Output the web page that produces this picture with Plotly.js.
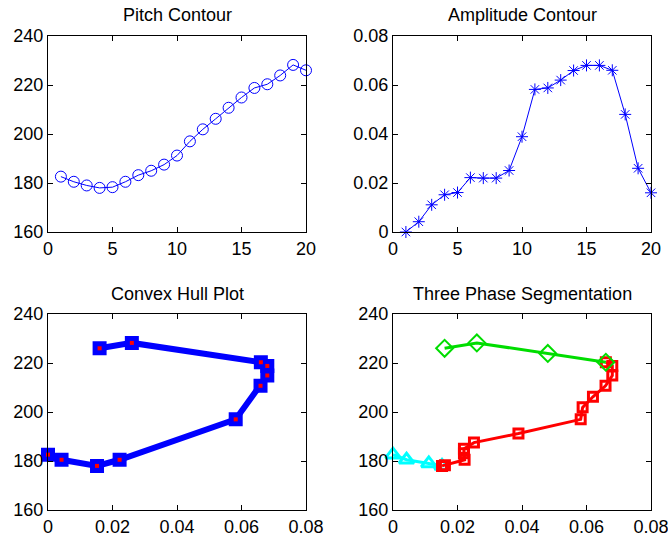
<!DOCTYPE html>
<html><head><meta charset="utf-8">
<script src="https://cdn.plot.ly/plotly-3.0.1.min.js"></script>
<style>html,body{margin:0;padding:0;background:#fff}#chart{width:668px;height:540px}</style>
</head><body><div id="chart"></div>
<script>
// Frame index 1..20
var frames = [1,2,3,4,5,6,7,8,9,10,11,12,13,14,15,16,17,18,19,20];
// Pitch contour (Hz)
var pitch = [182.6,180.5,179.0,178.0,178.3,180.5,183.2,185.0,187.5,191.2,197.0,201.9,206.2,210.7,214.9,218.8,220.3,223.9,228.2,226.0];
// Amplitude contour
var amp = [0.000,0.0042,0.0111,0.0152,0.0161,0.0222,0.022,0.022,0.0251,0.0389,0.0582,0.0588,0.062,0.0659,0.068,0.068,0.066,0.048,0.026,0.016];
// Convex hull vertices (frame numbers, in drawing order)
var hullFrames = [1,2,4,6,11,14,15,16,17,19,20];
// Three phase segments (frame numbers)
var phase1Frames = [1,2,3,4];
var phase2Frames = [4,5,6,7,8,9,10,11,12,13,14,15,16,17];
var phase3Frames = [17,18,19,20];
var titles = ["Pitch Contour","Amplitude Contour","Convex Hull Plot","Three Phase Segmentation"];

function pick(arr, fr){ return fr.map(function(f){ return arr[f-1]; }); }

var traces = [
  {x: frames, y: pitch, xaxis:'x', yaxis:'y', mode:'lines+markers', cliponaxis:false,
   line:{color:'#0000ff', width:1}, marker:{symbol:'circle-open', size:11, color:'#0000ff', line:{width:1}}},
  {x: frames, y: amp, xaxis:'x2', yaxis:'y2', mode:'lines+markers', cliponaxis:false,
   line:{color:'#0000ff', width:1}, marker:{symbol:'asterisk-open', size:10, color:'#0000ff', line:{width:1, color:'#0000ff'}}},
  {x: pick(amp,hullFrames), y: pick(pitch,hullFrames), xaxis:'x3', yaxis:'y3', mode:'lines+markers', cliponaxis:false,
   line:{color:'#0000ff', width:6}, marker:{symbol:'square', size:12, color:'#0000ff', line:{width:2, color:'#0000ff'}}},
  {x: pick(amp,hullFrames), y: pick(pitch,hullFrames), xaxis:'x3', yaxis:'y3', mode:'markers', cliponaxis:false,
   marker:{symbol:'square', size:4, color:'#ff0000'}},
  {x: pick(amp,phase1Frames), y: pick(pitch,phase1Frames), xaxis:'x4', yaxis:'y4', mode:'lines+markers', cliponaxis:false,
   line:{color:'#00ffff', width:3}, marker:{symbol:'triangle-up-open', size:13, color:'#00ffff', line:{width:3}}},
  {x: pick(amp,phase2Frames), y: pick(pitch,phase2Frames), xaxis:'x4', yaxis:'y4', mode:'lines+markers', cliponaxis:false,
   line:{color:'#ff0000', width:3}, marker:{symbol:'square-open', size:9, color:'#ff0000', line:{width:3}}},
  {x: pick(amp,phase3Frames), y: pick(pitch,phase3Frames), xaxis:'x4', yaxis:'y4', mode:'lines+markers', cliponaxis:false,
   line:{color:'#00dd00', width:3}, marker:{symbol:'diamond-open', size:13, color:'#00dd00', line:{width:2}}}
];

var W=668, H=540;
function dx(a,b){return [a/W, b/W];}
function dy(top,bot){return [1-bot/H, 1-top/H];}
var font = {family:'"Liberation Sans", Arial, sans-serif', size:18, color:'#000'};
function ax(dom, range, dtick, anchor){
  return {domain:dom, range:range, dtick:dtick, tick0:0, anchor:anchor, showgrid:false, zeroline:false,
    showline:true, linecolor:'#000', linewidth:1, mirror:'ticks', ticks:'inside', ticklen:5, tickcolor:'#000',
    tickfont:font, fixedrange:true, ticklabeloverflow:'allow'};
}
var L=48, R=306, L2=393, R2=651, T1=36, B1=232, T2=314, B2=510;
var layout = {
  width:W, height:H, margin:{l:0,r:0,t:0,b:0}, showlegend:false,
  paper_bgcolor:'#fff', plot_bgcolor:'#fff', font:font,
  xaxis: ax(dx(L,R), [0,20], 5, 'y'),
  yaxis: ax(dy(T1,B1), [160,240], 20, 'x'),
  xaxis2: ax(dx(L2,R2), [0,20], 5, 'y2'),
  yaxis2: ax(dy(T1,B1), [0,0.08], 0.02, 'x2'),
  xaxis3: ax(dx(L,R), [0,0.08], 0.02, 'y3'),
  yaxis3: ax(dy(T2,B2), [160,240], 20, 'x3'),
  xaxis4: ax(dx(L2,R2), [0,0.08], 0.02, 'y4'),
  yaxis4: ax(dy(T2,B2), [160,240], 20, 'x4'),
  annotations: [
    {text:titles[0], x:(L+R)/2/W, y:1-15/H},
    {text:titles[1], x:(L2+R2)/2/W, y:1-15/H},
    {text:titles[2], x:(L+R)/2/W, y:1-294/H},
    {text:titles[3], x:(L2+R2)/2/W, y:1-294/H}
  ].map(function(a){ a.xref='paper'; a.yref='paper'; a.showarrow=false; a.xanchor='center'; a.yanchor='middle';
    a.font={family:'"Liberation Sans", Arial, sans-serif', size:18, color:'#000'}; return a; })
};
Plotly.newPlot('chart', traces, layout, {displayModeBar:false, staticPlot:true});
</script></body></html>
